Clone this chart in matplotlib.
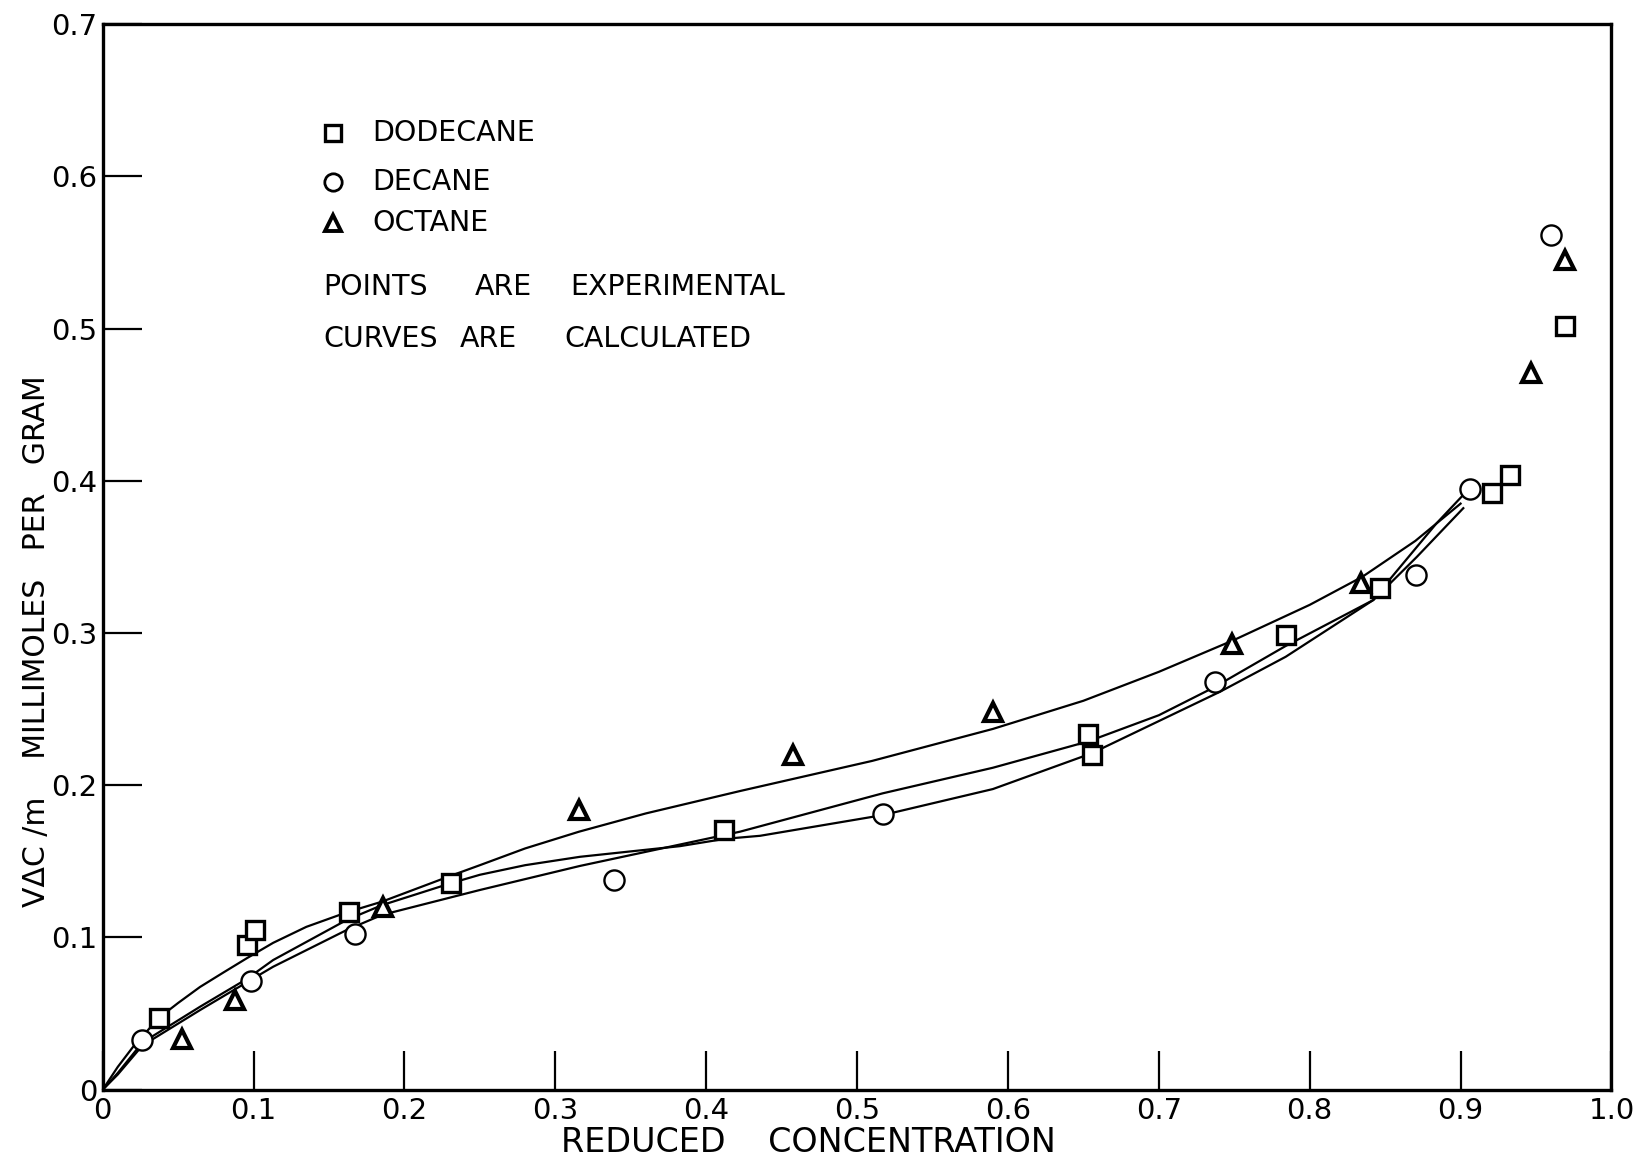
import matplotlib
matplotlib.use("Agg")
import matplotlib.pyplot as plt

# experimental points
dodecane_x = [0.037, 0.0955, 0.101, 0.163, 0.2306, 0.412, 0.653, 0.6555, 0.784, 0.8466, 0.9206, 0.9326, 0.969]
dodecane_y = [0.047, 0.095, 0.1048, 0.1169, 0.1356, 0.1703, 0.2334, 0.2199, 0.2987, 0.3293, 0.3918, 0.404, 0.5017]

decane_x = [0.0263, 0.0981, 0.167, 0.339, 0.517, 0.737, 0.8702, 0.9062, 0.9597]
decane_y = [0.0326, 0.0716, 0.102, 0.1377, 0.1811, 0.268, 0.3381, 0.3946, 0.5616]

octane_x = [0.0526, 0.0876, 0.1856, 0.3157, 0.4573, 0.590, 0.7485, 0.8338, 0.947, 0.969]
octane_y = [0.0333, 0.0592, 0.1202, 0.1837, 0.2199, 0.2483, 0.2928, 0.3326, 0.4707, 0.545]

# calculated curves
curve1_x = [0, 0.01, 0.02, 0.037, 0.05, 0.0645, 0.08, 0.0954, 0.113, 0.135, 0.1617, 0.185, 0.2306,
            0.25, 0.28, 0.3157, 0.36, 0.4224, 0.51, 0.59, 0.65, 0.70, 0.75, 0.80, 0.835, 0.87, 0.90]
curve1_y = [0, 0.015, 0.028, 0.047, 0.057, 0.0675, 0.077, 0.0863, 0.0965, 0.107, 0.1165, 0.1235, 0.1405,
            0.1475, 0.1585, 0.1695, 0.1815, 0.1962, 0.216, 0.237, 0.2555, 0.2745, 0.2955, 0.3185, 0.337,
            0.3605, 0.385]

curve2_x = [0, 0.01, 0.0263, 0.0645, 0.0954, 0.113, 0.1617, 0.185, 0.2306, 0.25, 0.28, 0.3163, 0.3826,
            0.4124, 0.4357, 0.517, 0.590, 0.6555, 0.7405, 0.7841, 0.8422, 0.871, 0.9018]
curve2_y = [0, 0.011, 0.031, 0.0545, 0.0727, 0.0852, 0.1115, 0.1212, 0.1356, 0.1412, 0.1475, 0.153, 0.160,
            0.1648, 0.1668, 0.1804, 0.1975, 0.221, 0.2614, 0.2844, 0.3217, 0.350, 0.382]

curve3_x = [0, 0.01, 0.0263, 0.0645, 0.0954, 0.113, 0.1617, 0.185, 0.25, 0.3163, 0.4224, 0.517,
            0.590, 0.6532, 0.70, 0.736, 0.7841, 0.8422, 0.8466, 0.884, 0.903]
curve3_y = [0, 0.010, 0.029, 0.0523, 0.0705, 0.0808, 0.1049, 0.1148, 0.1312, 0.147, 0.1695, 0.1947,
            0.2115, 0.2288, 0.246, 0.264, 0.2915, 0.3217, 0.3275, 0.372, 0.392]

xticks = [0, 0.1, 0.2, 0.3, 0.4, 0.5, 0.6, 0.7, 0.8, 0.9, 1.0]
xtick_labels = ["0", "0.1", "0.2", "0.3", "0.4", "0.5", "0.6", "0.7", "0.8", "0.9", "1.0"]
yticks = [0, 0.1, 0.2, 0.3, 0.4, 0.5, 0.6, 0.7]
ytick_labels = ["0", "0.1", "0.2", "0.3", "0.4", "0.5", "0.6", "0.7"]

fig = plt.figure(figsize=(16.43, 11.63), dpi=100)
ax = fig.add_axes([0.0625, 0.063, 0.9183, 0.9163])

for cx, cy in [(curve1_x, curve1_y), (curve2_x, curve2_y), (curve3_x, curve3_y)]:
    ax.plot(cx, cy, color="black", lw=1.6, solid_joinstyle="round")

ax.plot(dodecane_x, dodecane_y, marker="s", markersize=13, linestyle="none",
        markerfacecolor="white", markeredgecolor="black", markeredgewidth=2.4)
ax.plot(decane_x, decane_y, marker="o", markersize=14.5, linestyle="none",
        markerfacecolor="white", markeredgecolor="black", markeredgewidth=1.7)
ax.plot(octane_x, octane_y, marker="^", markersize=13.5, linestyle="none",
        markerfacecolor="white", markeredgecolor="black", markeredgewidth=3.0)

ax.set_xlim(0, 1.0)
ax.set_ylim(0, 0.7)
ax.set_xticks(xticks)
ax.set_xticklabels(xtick_labels)
ax.set_yticks(yticks)
ax.set_yticklabels(ytick_labels)
ax.tick_params(direction="in", length=28, width=1.6, labelsize=21, pad=5)
ax.tick_params(axis="y", pad=4)
for s in ax.spines.values():
    s.set_linewidth(2.4)

# key in the upper left
kx_mark, kx_text = 0.1528, 0.1785
ax.plot([kx_mark], [0.6284], marker="s", markersize=11, linestyle="none",
        markerfacecolor="white", markeredgecolor="black", markeredgewidth=2.4)
ax.plot([kx_mark], [0.5963], marker="o", markersize=12.5, linestyle="none",
        markerfacecolor="white", markeredgecolor="black", markeredgewidth=2.0)
ax.plot([kx_mark], [0.5694], marker="^", markersize=11.5, linestyle="none",
        markerfacecolor="white", markeredgecolor="black", markeredgewidth=2.8)
key_font = dict(fontsize=20.5, va="center", ha="left")
ax.text(kx_text, 0.6284, "DODECANE", **key_font)
ax.text(kx_text, 0.5963, "DECANE", **key_font)
ax.text(kx_text, 0.5694, "OCTANE", **key_font)

ax.text(0.146, 0.5273, "POINTS", **key_font)
ax.text(0.2467, 0.5273, "ARE", **key_font)
ax.text(0.3097, 0.5273, "EXPERIMENTAL", **key_font)
ax.text(0.146, 0.4932, "CURVES", **key_font)
ax.text(0.2368, 0.4932, "ARE", **key_font)
ax.text(0.3057, 0.4932, "CALCULATED", **key_font)

fig.text(0.4918, 0.018, "REDUCED    CONCENTRATION", fontsize=24, ha="center", va="center")
fig.text(0.0225, 0.449, "VΔC /m    MILLIMOLES   PER   GRAM", fontsize=21.5, rotation=90,
         ha="center", va="center")

fig.savefig("out.png", dpi=100)
